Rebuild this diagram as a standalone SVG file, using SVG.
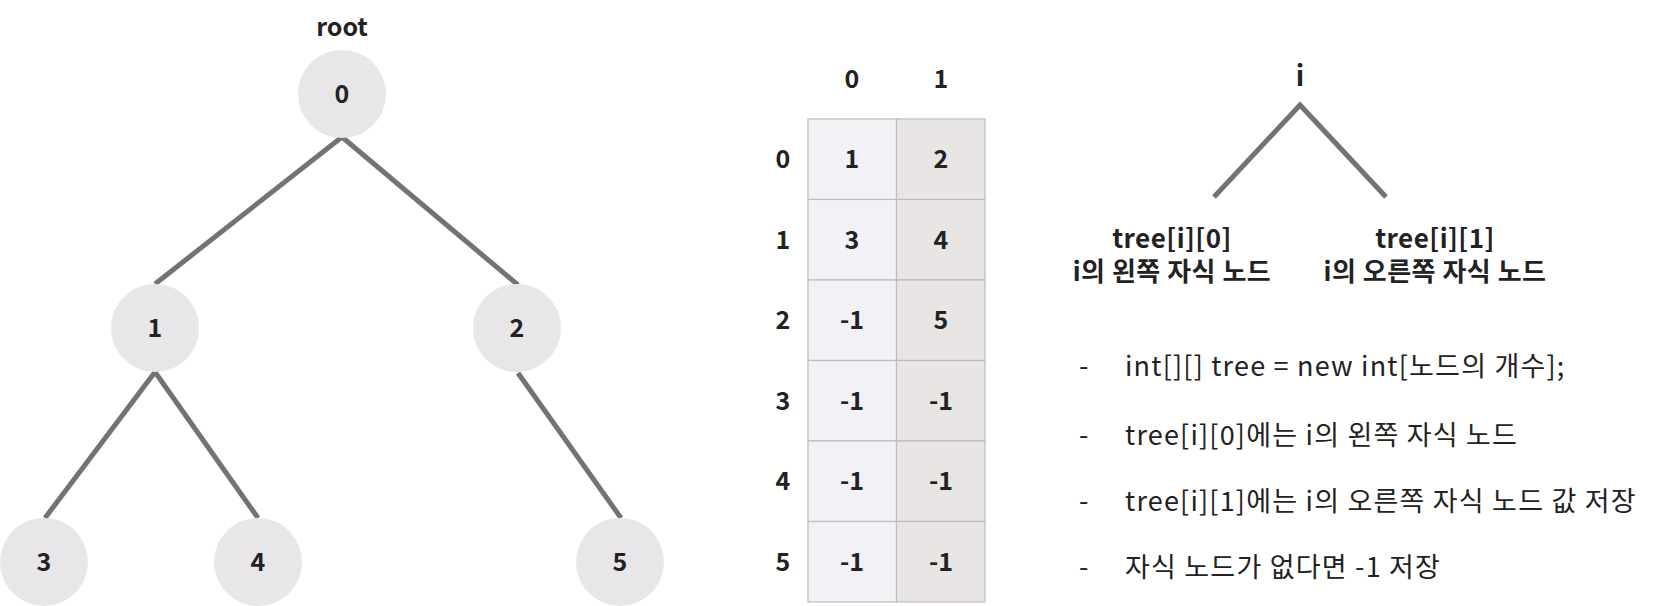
<svg xmlns="http://www.w3.org/2000/svg" width="1656" height="606" viewBox="0 0 1656 606">
<style>
text{font-family:"Noto Sans CJK KR","Noto Sans",sans-serif;fill:#222;}
.b{font-weight:700;font-size:25px;text-anchor:middle;}
.l{font-weight:700;font-size:26px;text-anchor:middle;letter-spacing:0.5px;}
.r{font-weight:400;font-size:27px;letter-spacing:1.2px;}
.node{fill:#e8e6e8;}
.edge{stroke:#737373;stroke-width:5;fill:none;}
.c0{fill:#f2f1f6;stroke:#bcbcbc;stroke-width:1.2;}
.c1{fill:#e8e5e4;stroke:#bcbcbc;stroke-width:1.2;}
</style>
<rect width="1656" height="606" fill="#fff"/>
<g id="connectors">
<line class="edge" x1="342" y1="137" x2="155" y2="284"/>
<line class="edge" x1="342" y1="137" x2="518" y2="285"/>
<line class="edge" x1="155" y1="372" x2="45" y2="518"/>
<line class="edge" x1="155" y1="372" x2="258" y2="518"/>
<line class="edge" x1="518" y1="373" x2="621" y2="518"/>
<polyline class="edge" points="1214,197 1300,105 1386,197"/>
</g>
<text class="b" x="342" y="36">root</text>
<g id="node0"><circle class="node" cx="342" cy="94" r="44"/><text class="b" x="342" y="103">0</text></g>
<g id="node1"><circle class="node" cx="155" cy="328" r="44"/><text class="b" x="155" y="337">1</text></g>
<g id="node2"><circle class="node" cx="517" cy="328" r="44"/><text class="b" x="517" y="337">2</text></g>
<g id="node3"><circle class="node" cx="44" cy="562" r="44"/><text class="b" x="44" y="571">3</text></g>
<g id="node4"><circle class="node" cx="258" cy="562" r="44"/><text class="b" x="258" y="571">4</text></g>
<g id="node5"><circle class="node" cx="620" cy="562" r="44"/><text class="b" x="620" y="571">5</text></g>
<g id="table">
<rect class="c0" x="808" y="119" width="88.5" height="80.5"/>
<rect class="c0" x="808" y="199.5" width="88.5" height="80.5"/>
<rect class="c0" x="808" y="280" width="88.5" height="80.5"/>
<rect class="c0" x="808" y="360.5" width="88.5" height="80.5"/>
<rect class="c0" x="808" y="441" width="88.5" height="80.5"/>
<rect class="c0" x="808" y="521.5" width="88.5" height="80.5"/>
<rect class="c1" x="896.5" y="119" width="88.5" height="80.5"/>
<rect class="c1" x="896.5" y="199.5" width="88.5" height="80.5"/>
<rect class="c1" x="896.5" y="280" width="88.5" height="80.5"/>
<rect class="c1" x="896.5" y="360.5" width="88.5" height="80.5"/>
<rect class="c1" x="896.5" y="441" width="88.5" height="80.5"/>
<rect class="c1" x="896.5" y="521.5" width="88.5" height="80.5"/>
<text class="b" x="852" y="88">0</text>
<text class="b" x="941" y="88">1</text>
<text class="b" x="783" y="168">0</text>
<text class="b" x="783" y="249">1</text>
<text class="b" x="783" y="329">2</text>
<text class="b" x="783" y="410">3</text>
<text class="b" x="783" y="490">4</text>
<text class="b" x="783" y="571">5</text>
<text class="b" x="852" y="168">1</text>
<text class="b" x="941" y="168">2</text>
<text class="b" x="852" y="249">3</text>
<text class="b" x="941" y="249">4</text>
<text class="b" x="852" y="329">-1</text>
<text class="b" x="941" y="329">5</text>
<text class="b" x="852" y="410">-1</text>
<text class="b" x="941" y="410">-1</text>
<text class="b" x="852" y="490">-1</text>
<text class="b" x="941" y="490">-1</text>
<text class="b" x="852" y="571">-1</text>
<text class="b" x="941" y="571">-1</text>
</g>
<g id="legend">
<text class="b" x="1300" y="86" style="font-size:28px">i</text>
<text class="l" x="1172" y="248">tree[i][0]</text>
<text class="l" x="1172" y="281">i의 왼쪽 자식 노드</text>
<text class="l" x="1435" y="248">tree[i][1]</text>
<text class="l" x="1435" y="281">i의 오른쪽 자식 노드</text>
</g>
<g id="notes">
<text class="r" x="1079" y="376">-</text>
<text class="r" x="1125" y="376">int[][] tree = new int[노드의 개수];</text>
<text class="r" x="1079" y="445">-</text>
<text class="r" x="1125" y="445">tree[i][0]에는 i의 왼쪽 자식 노드</text>
<text class="r" x="1079" y="511">-</text>
<text class="r" x="1125" y="511">tree[i][1]에는 i의 오른쪽 자식 노드 값 저장</text>
<text class="r" x="1079" y="577">-</text>
<text class="r" x="1125" y="577">자식 노드가 없다면 -1 저장</text>
</g>
</svg>
